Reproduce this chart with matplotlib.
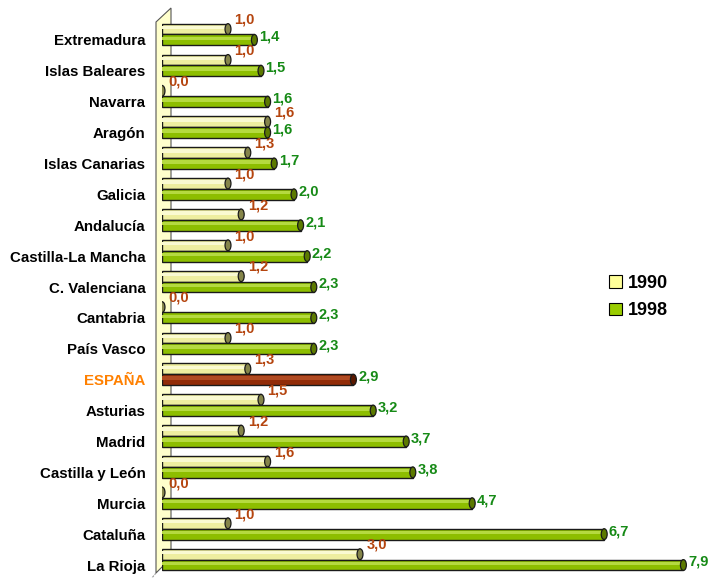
import numpy as np
import matplotlib
matplotlib.use("Agg")
import matplotlib.pyplot as plt
from matplotlib.patches import Ellipse, Polygon, Patch

regions = ["Extremadura", "Islas Baleares", "Navarra", "Aragón", "Islas Canarias",
           "Galicia", "Andalucía", "Castilla-La Mancha", "C. Valenciana", "Cantabria",
           "País Vasco", "ESPAÑA", "Asturias", "Madrid", "Castilla y León", "Murcia",
           "Cataluña", "La Rioja"]
v1990 = [1.0, 1.0, 0.0, 1.6, 1.3, 1.0, 1.2, 1.0, 1.2, 0.0, 1.0, 1.3, 1.5, 1.2, 1.6, 0.0, 1.0, 3.0]
v1998 = [1.4, 1.5, 1.6, 1.6, 1.7, 2.0, 2.1, 2.2, 2.3, 2.3, 2.3, 2.9, 3.2, 3.7, 3.8, 4.7, 6.7, 7.9]

plt.rcParams['font.family'] = ['Liberation Sans', 'DejaVu Sans']

W, H = 709, 578
PX = 66.0  # pixels per unit
fig = plt.figure(figsize=(W / 100, H / 100), dpi=100)

ax = fig.add_axes([162 / W, 0, 541 / W, (578 - 9) / H])
ax.patch.set_alpha(0)
ax.set_xlim(0, 541 / PX)
ax.set_ylim(17.42, -1.0)
for s in ax.spines.values():
    s.set_visible(False)
ax.set_xticks([])


def fp(x, y):
    return (x / W, 1 - y / H)


# back wall, behind the bars
wall = Polygon([fp(156, 22), fp(171, 8), fp(171, 558), fp(156, 573)],
               closed=True, facecolor='#FFFFCC', edgecolor='#555555', lw=0.8,
               transform=fig.transFigure, zorder=0, clip_on=False)
ax.add_patch(wall)
ax.add_line(plt.Line2D([156 / W, 142 / W], [1 - 573 / H, 1 - 590 / H],
                       transform=fig.transFigure, color='#999999', lw=0.8,
                       ls=(0, (2, 1)), clip_on=False, zorder=0))

y = np.arange(len(regions))
bh = 0.35
off = 0.35
capw = 0.09


def cylinder(yc, val, fill, light, dark):
    if val > 0:
        ax.barh(yc, val, height=bh, color=fill, edgecolor='#1A1A1A', lw=1.0, zorder=3)
        ax.barh(yc - bh * 0.15, val, height=bh * 0.32, color=light, lw=0, zorder=3.5)
    ax.add_patch(Ellipse((val, yc), capw, bh, facecolor=dark, edgecolor='#1A1A1A',
                         lw=0.9, zorder=4))


for i, name in enumerate(regions):
    # 1990
    cylinder(y[i] - off, v1990[i], '#EEEEA0', '#FAFAD2', '#85854A')
    # 1998
    if name == "ESPAÑA":
        cylinder(y[i], v1998[i], '#922C08', '#B04A22', '#5A1800')
    else:
        cylinder(y[i], v1998[i], '#8DBE00', '#B5DA40', '#5C7A00')
    ax.text(v1990[i] + 0.1, y[i] - off - 0.3, f"{v1990[i]:.1f}".replace('.', ','),
            color='#B5450F', fontsize=10.5, fontweight='bold', va='center', ha='left')
    ax.text(v1998[i] + 0.07, y[i] - 0.1, f"{v1998[i]:.1f}".replace('.', ','),
            color='#168A16', fontsize=10.5, fontweight='bold', va='center', ha='left')

ax.set_yticks(y)
ax.set_yticklabels(regions, fontsize=10.8, fontweight='bold')
ax.tick_params(axis='y', length=0, pad=12)
for lab in ax.get_yticklabels():
    if lab.get_text() == "ESPAÑA":
        lab.set_color('#FF8000')

handles = [Patch(facecolor='#FFFF99', edgecolor='black', lw=0.8),
           Patch(facecolor='#99CC00', edgecolor='black', lw=0.8)]
leg = fig.legend(handles, ["1990", "1998"], loc='center left',
                 bbox_to_anchor=(593 / W, 1 - 297 / H), frameon=False,
                 handlelength=0.7, handleheight=0.7, handletextpad=0.35,
                 labelspacing=0.6, prop={'weight': 'bold', 'size': 13})

fig.savefig("out.png", dpi=100)
